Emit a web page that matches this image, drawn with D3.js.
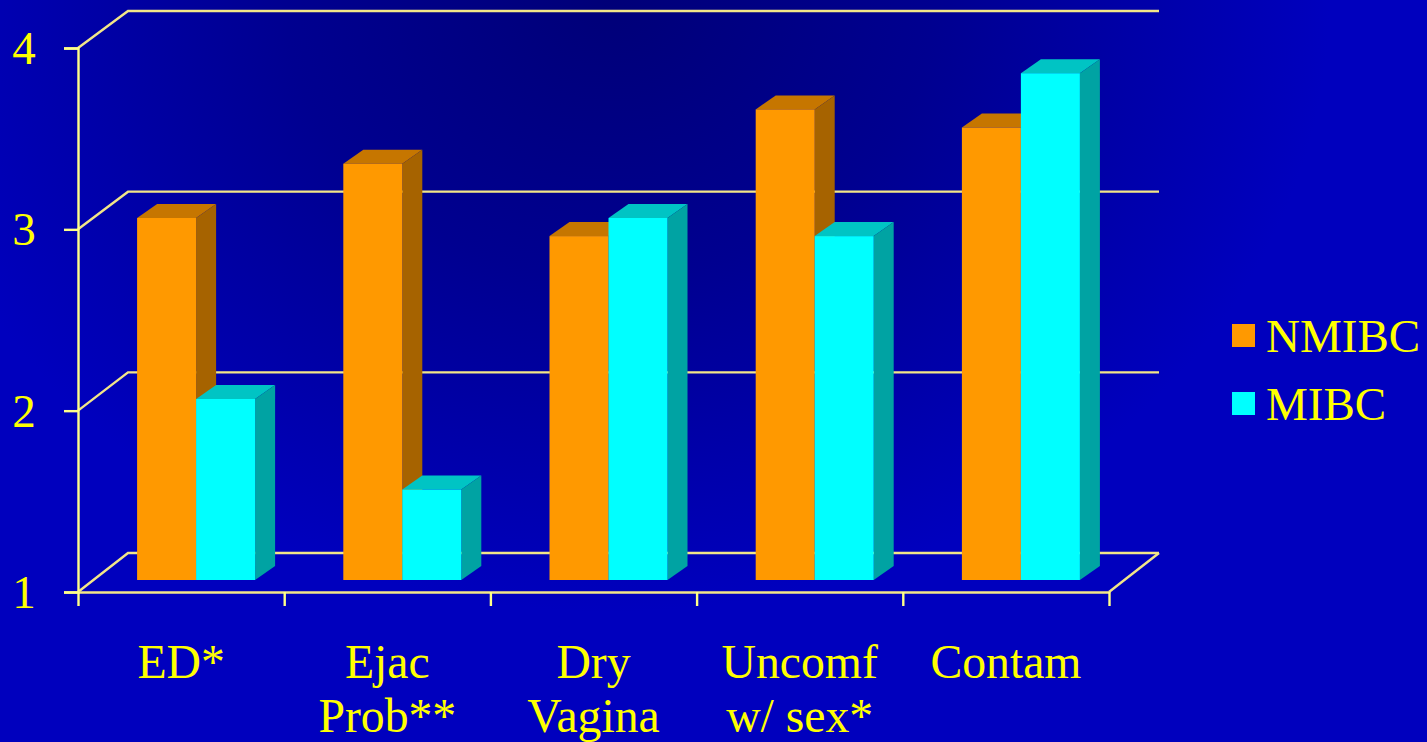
<!DOCTYPE html>
<html>
<head>
<meta charset="utf-8">
<title>NMIBC vs MIBC</title>
<script src="https://cdn.jsdelivr.net/npm/d3@7/dist/d3.min.js"></script>
<style>
  html, body { margin: 0; padding: 0; background: #0000be; overflow: hidden; }
  svg { display: block; }
  text { font-family: "Liberation Serif", "Times New Roman", serif; fill: #ffff00; font-size: 47px; }
  .cat text { font-size: 47.7px; }
</style>
</head>
<body>
<svg id="chart" width="1427" height="742"></svg>
<script>
const categories = [["ED*"], ["Ejac", "Prob**"], ["Dry", "Vagina"], ["Uncomf", "w/ sex*"], ["Contam"]];
const seriesNames = ["NMIBC", "MIBC"];
const nmibc = [3.0, 3.3, 2.9, 3.6, 3.5];
const mibc = [2.0, 1.5, 3.0, 2.9, 3.8];
const yTicks = [1, 2, 3, 4];

const faceColors = ["#ff9900", "#00ffff"];
const topColors = ["#c67600", "#00c4c4"];
const sideColors = ["#a66300", "#00a3a3"];
const lineColor = "#ffff88";
const backLineColor = "#f2e688";
const lineWidth = 2.4;

const W = 1427, H = 742;
const plot = { left: 78, right: 1109, top: 48, bottom: 592 };
const wallDx = 50;                     // horizontal offset of the back wall
const bar3d = { dx: 20, dy: -14 };     // extrusion of each bar
const barShiftX = 15;                  // bars stand slightly inside the floor

const svg = d3.select("#chart");

// Background: dark centre fading to saturated blue
const defs = svg.append("defs");
const grad = defs.append("radialGradient")
  .attr("id", "bg").attr("gradientUnits", "userSpaceOnUse")
  .attr("cx", 610).attr("cy", 0).attr("r", 720)
  .attr("gradientTransform", "translate(610 0) scale(1 0.85) translate(-610 0)");
grad.append("stop").attr("offset", 0).attr("stop-color", "#000078");
grad.append("stop").attr("offset", 0.45).attr("stop-color", "#000090");
grad.append("stop").attr("offset", 1).attr("stop-color", "#0000be");
svg.append("rect").attr("width", W).attr("height", H).attr("fill", "url(#bg)");

const x = d3.scaleBand().domain(d3.range(categories.length)).range([plot.left, plot.right]);
const y = d3.scaleLinear().domain([1, 4]).range([plot.bottom, plot.top]);
const yWall = d3.scaleLinear().domain([1, 4]).range([553, 11]);
const yBar = d3.scaleLinear().domain([1, 4]).range([580, 37]);
const inner = d3.scaleBand().domain(d3.range(seriesNames.length)).range([0, 118]);

// Back wall gridlines with their connectors to the front plane
const grid = svg.append("g").attr("fill", "none");
grid.selectAll("path").data(yTicks).join("path")
  .attr("d", t => `M${plot.left},${y(t)}L${plot.left + wallDx},${yWall(t)}H${plot.right + wallDx}`)
  .attr("stroke", backLineColor).attr("stroke-width", lineWidth);
grid.append("path")
  .attr("d", `M${plot.right},${y(1)}L${plot.right + wallDx},${yWall(1)}`)
  .attr("stroke", backLineColor).attr("stroke-width", lineWidth);

// Axes
const yAxis = d3.axisLeft(y).tickValues(yTicks).tickFormat(d3.format("d")).tickSize(14).tickPadding(29);
const yG = svg.append("g").attr("transform", `translate(${plot.left},0)`).call(yAxis);
yG.select(".domain").attr("stroke", lineColor).attr("stroke-width", lineWidth);
yG.selectAll(".tick line").attr("stroke", lineColor).attr("stroke-width", lineWidth);
yG.selectAll(".tick text").attr("font-size", null).attr("text-anchor", "middle").attr("dy", "0.33em")
  .attr("x", -54).style("font-size", "47px").style("font-family", null);

const xAxis = d3.axisBottom(d3.scaleLinear().domain([0, categories.length]).range([plot.left, plot.right]))
  .tickValues(d3.range(categories.length + 1)).tickFormat("").tickSize(14).tickSizeOuter(0);
const xG = svg.append("g").attr("transform", `translate(0,${plot.bottom})`).call(xAxis);
xG.select(".domain").attr("stroke", backLineColor).attr("stroke-width", lineWidth);
xG.selectAll(".tick line").attr("stroke", lineColor).attr("stroke-width", lineWidth);

// Extruded bars: each value gets a top, a side and a front face
const values = [nmibc, mibc];
categories.forEach((_, c) => {
  seriesNames.forEach((_, s) => {
    const v = values[s][c];
    const x0 = x(c) + x.bandwidth() / 2 + barShiftX - inner.bandwidth() + inner(s);
    const x1 = x0 + inner.bandwidth();
    const yT = yBar(v);
    const yB = yBar(1);
    const g = svg.append("g");
    g.append("path")
      .attr("d", `M${x0},${yT}L${x0 + bar3d.dx},${yT + bar3d.dy}H${x1 + bar3d.dx}L${x1},${yT}Z`)
      .attr("fill", topColors[s]);
    g.append("path")
      .attr("d", `M${x1},${yT}L${x1 + bar3d.dx},${yT + bar3d.dy}V${yB + bar3d.dy}L${x1},${yB}Z`)
      .attr("fill", sideColors[s]);
    g.append("rect")
      .attr("x", x0).attr("y", yT).attr("width", x1 - x0).attr("height", yB - yT)
      .attr("fill", faceColors[s]);
  });
});

// Category labels
const labels = svg.append("g").attr("class", "cat").attr("text-anchor", "middle");
categories.forEach((lines, c) => {
  const cx = x(c) + x.bandwidth() / 2;
  lines.forEach((line, i) => {
    labels.append("text").attr("x", cx).attr("y", 678 + i * 54).text(line);
  });
});

// Legend
const legend = svg.append("g");
seriesNames.forEach((name, i) => {
  const ly = 324 + i * 68;
  legend.append("rect").attr("x", 1232).attr("y", ly).attr("width", 23).attr("height", 23).attr("fill", faceColors[i]);
  legend.append("text").attr("x", 1266).attr("y", ly + 28).text(name);
});
</script>
</body>
</html>
